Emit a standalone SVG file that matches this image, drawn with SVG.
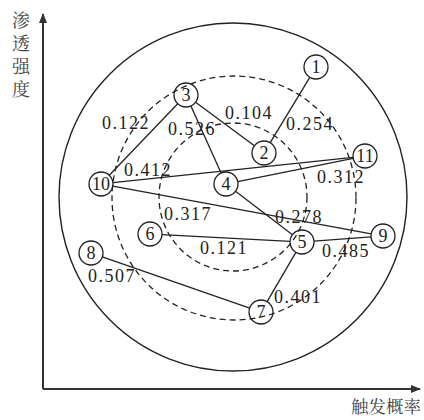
<svg xmlns="http://www.w3.org/2000/svg" width="424" height="420" viewBox="0 0 424 420">
<style>
.ax{stroke:#333;stroke-width:2;fill:none}
.ring{fill:none;stroke:#222;stroke-width:1.4}
.dash{fill:none;stroke:#222;stroke-width:1.3;stroke-dasharray:6 4}
.e{stroke:#222;stroke-width:1.3}
.n{fill:none;stroke:#222;stroke-width:1.3}
.nt{font-family:"Liberation Serif",serif;font-size:18px;fill:#222;text-anchor:middle}
.w{font-family:"Liberation Serif",serif;font-size:18px;fill:#222;letter-spacing:1.5px}
.cj{font-family:"Noto Serif CJK SC","Noto Sans CJK SC",serif;font-size:18px;fill:#444}
</style>
<defs>
<marker id="ah" viewBox="0 0 10 10" refX="9" refY="5" markerWidth="5" markerHeight="5" orient="auto"><path d="M0,1 L10,5 L0,9 z" fill="#333"/></marker>
</defs>
<g id="axes">
<path class="ax" d="M43,389 L43,14" marker-end="url(#ah)"/>
<path class="ax" d="M43,389 L420,389" marker-end="url(#ah)"/>
<text class="cj" x="21" y="11" style="writing-mode:vertical-rl;letter-spacing:5px">渗透强度</text>
<text class="cj" x="421" y="413" text-anchor="end" style="font-size:17.5px">触发概率</text>
</g>
<g id="rings">
<circle class="ring" cx="233" cy="197" r="174"/>
<circle class="dash" cx="234" cy="198" r="122"/>
<circle class="dash" cx="233" cy="197" r="74"/>
</g>
<g id="connectors">
<line class="e" x1="309.8" y1="77.3" x2="270.2" y2="142.7"/>
<line class="e" x1="195.6" y1="102.2" x2="254.4" y2="145.8"/>
<line class="e" x1="177.7" y1="103.7" x2="109.3" y2="175.3"/>
<line class="e" x1="190.9" y1="105.9" x2="221.1" y2="173.1"/>
<line class="e" x1="112.9" y1="182.7" x2="353.1" y2="157.3"/>
<line class="e" x1="237.8" y1="181.6" x2="353.2" y2="158.4"/>
<line class="e" x1="112.8" y1="186.2" x2="371.2" y2="233.8"/>
<line class="e" x1="235.5" y1="191.3" x2="292.5" y2="234.7"/>
<line class="e" x1="162" y1="234.6" x2="290" y2="241.4"/>
<line class="e" x1="102.3" y1="256.9" x2="249.7" y2="308.1"/>
<line class="e" x1="295.9" y1="252.4" x2="267.1" y2="301.6"/>
<line class="e" x1="314" y1="241.1" x2="371" y2="236.9"/>
</g>
<g id="labels">
<text class="w" x="102" y="129">0.122</text>
<text class="w" x="168" y="135">0.526</text>
<text class="w" x="225" y="119">0.104</text>
<text class="w" x="286" y="130">0.254</text>
<text class="w" x="124" y="176">0.412</text>
<text class="w" x="317" y="183">0.312</text>
<text class="w" x="164" y="220">0.317</text>
<text class="w" x="275" y="223">0.278</text>
<text class="w" x="200" y="254">0.121</text>
<text class="w" x="322" y="257">0.485</text>
<text class="w" x="274" y="303">0.401</text>
<text class="w" x="88" y="282">0.507</text>
</g>
<g id="node1"><circle class="n" cx="316" cy="67" r="12"/><text class="nt" x="316" y="73">1</text></g>
<g id="node2"><circle class="n" cx="264" cy="153" r="12"/><text class="nt" x="264" y="159">2</text></g>
<g id="node3"><circle class="n" cx="186" cy="95" r="12"/><text class="nt" x="186" y="101">3</text></g>
<g id="node4"><circle class="n" cx="226" cy="184" r="12"/><text class="nt" x="226" y="190">4</text></g>
<g id="node5"><circle class="n" cx="302" cy="242" r="12"/><text class="nt" x="302" y="248">5</text></g>
<g id="node6"><circle class="n" cx="150" cy="234" r="12"/><text class="nt" x="150" y="240">6</text></g>
<g id="node7"><circle class="n" cx="261" cy="312" r="12"/><text class="nt" x="261" y="318">7</text></g>
<g id="node8"><circle class="n" cx="91" cy="253" r="12"/><text class="nt" x="91" y="259">8</text></g>
<g id="node9"><circle class="n" cx="383" cy="236" r="12"/><text class="nt" x="383" y="242">9</text></g>
<g id="node10"><circle class="n" cx="101" cy="184" r="12"/><text class="nt" x="101" y="190">10</text></g>
<g id="node11"><circle class="n" cx="365" cy="156" r="12"/><text class="nt" x="365" y="162">11</text></g>
</svg>
